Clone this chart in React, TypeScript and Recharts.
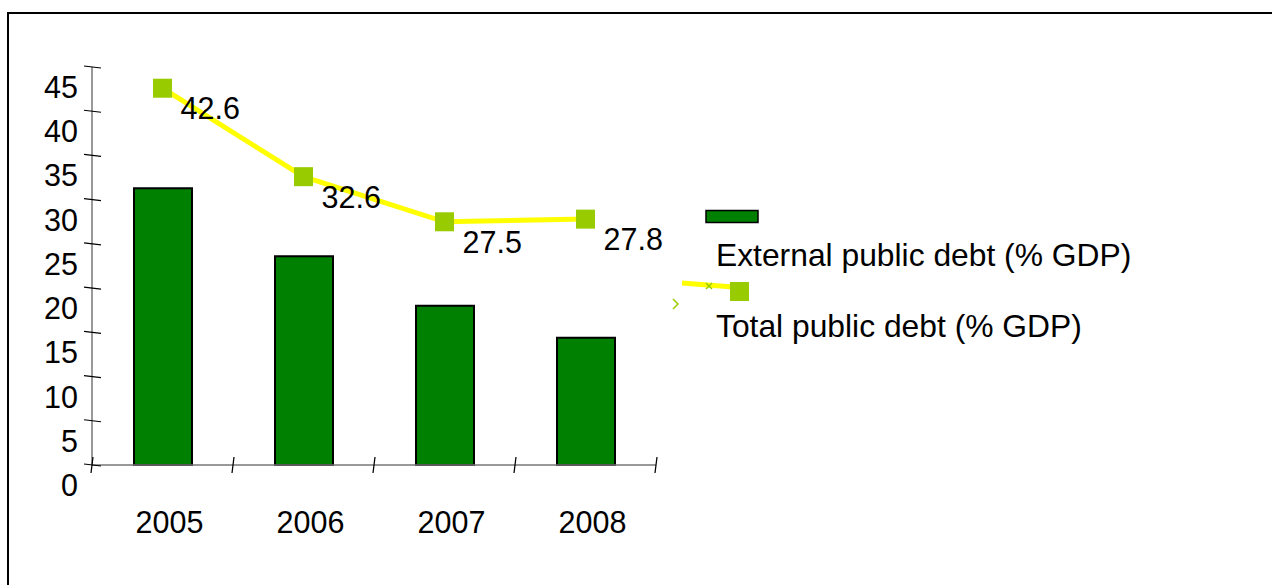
import React from "react";
import {
  ComposedChart,
  Bar,
  Line,
  XAxis,
  YAxis,
  LabelList,
  Legend,
} from "recharts";

const years = ["2005", "2006", "2007", "2008"];
const externalDebt = [31.3, 23.6, 18.0, 14.4];
const totalDebt = [42.6, 32.6, 27.5, 27.8];
const yTicks = [0, 5, 10, 15, 20, 25, 30, 35, 40, 45];
const seriesNames = ["External public debt (% GDP)", "Total public debt (% GDP)"];

const data = years.map((year, i) => ({
  year,
  external: externalDebt[i],
  total: totalDebt[i],
}));

const FONT = "'Liberation Sans', Arial, sans-serif";
const BAR_GREEN = "#008000";
const LINE_YELLOW = "#FFFF00";
const MARKER_GREEN = "#99CC00";

function XTick(props: any) {
  const { x, y, payload, index } = props;
  const half = payload?.offset || 70.5;
  return (
    <g>
      {index === 0 && (
        <line x1={x - half + 1} y1={y - 8} x2={x - half - 1} y2={y + 8} stroke="#000" strokeWidth={1.2} />
      )}
      <line x1={x + half + 1} y1={y - 8} x2={x + half - 1} y2={y + 8} stroke="#000" strokeWidth={1.2} />
      <text x={x + 7} y={y + 68} textAnchor="middle" fontSize={30.5} fontFamily={FONT} fill="#000">
        {payload.value}
      </text>
    </g>
  );
}

function YTick(props: any) {
  const { x, y, payload } = props;
  return (
    <g>
      <line x1={x - 8} y1={y - 1} x2={x + 9} y2={y + 1} stroke="#000" strokeWidth={1.2} />
      <text x={x - 14} y={y + 31} textAnchor="end" fontSize={30.5} fontFamily={FONT} fill="#000">
        {payload.value}
      </text>
    </g>
  );
}

function TotalLabel(props: any) {
  const { x, y, value } = props;
  return (
    <text x={x + 18} y={y + 31} fontSize={30.5} fontFamily={FONT} fill="#000">
      {value}
    </text>
  );
}

function SquareDot(props: any) {
  const { cx, cy, index } = props;
  return <rect key={index} x={cx - 9.5} y={cy - 9.5} width={19} height={19} fill={MARKER_GREEN} />;
}

function LegendBox() {
  // odd legend from the source picture, drawn as is
  return (
    <svg width={1272} height={585} style={{ display: "block" }}>
      <rect x={706} y={210.5} width={52} height={12} fill={BAR_GREEN} stroke="#000" strokeWidth={1.5} />
      <text x={716} y={266} fontSize={31.8} fontFamily={FONT} fill="#000">
        {seriesNames[0]}
      </text>
      <line x1={682} y1={283} x2={733} y2={287} stroke={LINE_YELLOW} strokeWidth={5} />
      <path d="M706 283 L712 289 M712 283 L706 289" stroke={MARKER_GREEN} strokeWidth={1.5} />
      <rect x={730} y={282} width={19} height={19} fill={MARKER_GREEN} />
      <path d="M673 299 L678 304 L673 309" stroke={MARKER_GREEN} strokeWidth={1.5} fill="none" />
      <text x={716} y={337} fontSize={31.8} fontFamily={FONT} fill="#000">
        {seriesNames[1]}
      </text>
    </svg>
  );
}

export default function App() {
  return (
    <div style={{ position: "absolute", left: 0, top: 0, width: 1272, height: 585, background: "#fff", overflow: "hidden" }}>
      <div
        style={{
          position: "absolute",
          left: 7,
          top: 12,
          width: 1300,
          height: 600,
          borderLeft: "2px solid #000",
          borderTop: "2px solid #000",
        }}
      />
      <div style={{ position: "absolute", left: 0, top: 0 }}>
        <ComposedChart
          width={1272}
          height={585}
          data={data}
          margin={{ top: 67, right: 616, bottom: 60, left: 32 }}
        >
          <XAxis
            dataKey="year"
            height={60}
            tickLine={false}
            tickSize={0}
            tickMargin={0}
            axisLine={{ stroke: "#777", strokeWidth: 1.5 }}
            tick={<XTick />}
            interval={0}
          />
          <YAxis
            width={60}
            domain={[0, 45]}
            ticks={yTicks}
            tickLine={false}
            tickSize={0}
            tickMargin={0}
            axisLine={{ stroke: "#777", strokeWidth: 1.5 }}
            tick={<YTick />}
            interval={0}
          />
          <Legend
            layout="horizontal"
            verticalAlign="middle"
            align="center"
            wrapperStyle={{ position: "absolute", left: 0, top: 0, width: 1272, height: 585, pointerEvents: "none" }}
            content={() => <LegendBox />}
          />
          <Bar
            dataKey="external"
            name={seriesNames[0]}
            barSize={58}
            fill={BAR_GREEN}
            stroke="#000"
            strokeWidth={2}
            isAnimationActive={false}
          />
          <Line
            dataKey="total"
            name={seriesNames[1]}
            stroke={LINE_YELLOW}
            strokeWidth={5}
            dot={<SquareDot />}
            activeDot={false}
            isAnimationActive={false}
          >
            <LabelList dataKey="total" content={<TotalLabel />} />
          </Line>
        </ComposedChart>
      </div>
    </div>
  );
}
